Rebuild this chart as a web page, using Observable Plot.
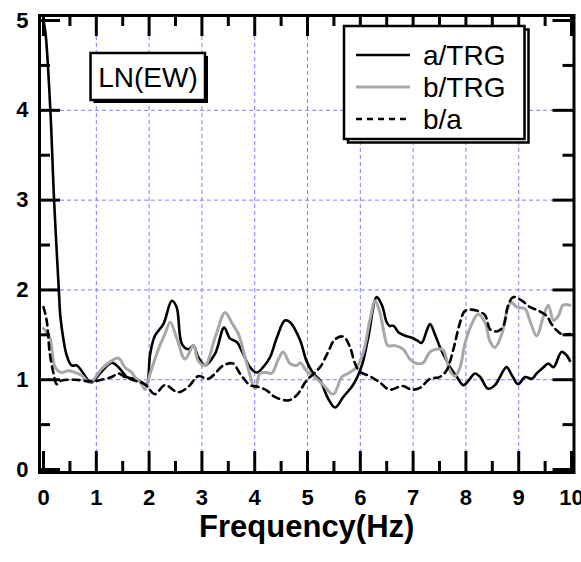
<!DOCTYPE html>
<html>
<head>
<meta charset="utf-8">
<script src="https://cdn.jsdelivr.net/npm/d3@7"></script>
<script src="https://cdn.jsdelivr.net/npm/@observablehq/plot@0.6"></script>
<style>
  html, body { margin: 0; padding: 0; background: #fff; }
  #chart svg { display: block; overflow: visible; }
</style>
</head>
<body>
<div id="chart"></div>
<script>
// ---- Data ----
const aTRG_freq = [0.00,0.04,0.13,0.20,0.29,0.32,0.38,0.44,0.53,0.63,0.72,0.85,0.91,1.10,1.29,1.42,1.58,1.73,1.86,1.95,2.02,2.11,2.27,2.43,2.52,2.62,2.74,2.84,2.93,3.06,3.25,3.42,3.53,3.66,3.78,3.91,4.04,4.16,4.29,4.42,4.57,4.67,4.86,4.98,5.11,5.24,5.39,5.52,5.68,5.87,6.03,6.15,6.31,6.41,6.50,6.55,6.63,6.72,6.85,6.97,7.07,7.16,7.26,7.32,7.41,7.51,7.60,7.70,7.83,7.95,8.05,8.17,8.27,8.42,8.55,8.77,8.87,8.99,9.12,9.25,9.34,9.47,9.56,9.66,9.81,9.91,9.97];
const aTRG_val  = [5.00,4.85,4.00,3.00,2.00,1.70,1.44,1.27,1.16,1.16,1.10,0.99,0.97,1.09,1.19,1.14,1.03,1.01,0.97,0.94,1.29,1.49,1.62,1.88,1.81,1.40,1.34,1.38,1.25,1.16,1.29,1.58,1.46,1.42,1.29,1.14,1.08,1.14,1.25,1.47,1.66,1.64,1.44,1.21,1.07,0.99,0.79,0.69,0.81,0.95,1.16,1.47,1.92,1.83,1.64,1.60,1.60,1.53,1.49,1.47,1.44,1.41,1.55,1.62,1.51,1.36,1.25,1.14,1.03,0.94,0.99,1.07,1.03,0.90,0.94,1.14,1.05,0.95,1.03,1.01,1.07,1.14,1.18,1.14,1.31,1.27,1.21];

const bTRG_freq = [0.00,0.03,0.12,0.22,0.34,0.47,0.60,0.72,0.88,1.10,1.29,1.42,1.54,1.67,1.73,1.86,1.92,2.02,2.17,2.30,2.40,2.52,2.68,2.84,2.93,3.06,3.25,3.44,3.56,3.69,3.85,4.01,4.10,4.23,4.32,4.45,4.54,4.67,4.80,4.86,4.98,5.14,5.30,5.49,5.65,5.80,5.93,6.06,6.18,6.28,6.37,6.45,6.52,6.66,6.81,6.94,7.07,7.19,7.32,7.45,7.57,7.64,7.70,7.79,7.89,7.98,8.11,8.23,8.36,8.46,8.55,8.68,8.80,8.87,8.96,9.12,9.21,9.34,9.47,9.56,9.66,9.75,9.84,9.97];
const bTRG_val  = [1.57,1.55,1.47,1.14,1.08,1.10,1.08,1.05,0.97,1.12,1.21,1.24,1.14,1.08,1.03,0.95,0.89,1.07,1.33,1.51,1.64,1.47,1.23,1.38,1.21,1.16,1.47,1.75,1.64,1.51,1.18,0.90,1.07,1.08,1.07,1.23,1.31,1.18,1.16,1.19,1.10,1.03,0.94,0.84,1.03,1.08,1.14,1.31,1.66,1.88,1.75,1.52,1.38,1.38,1.34,1.23,1.18,1.19,1.31,1.34,1.33,1.21,1.10,1.04,1.14,1.40,1.62,1.73,1.64,1.42,1.36,1.51,1.81,1.86,1.81,1.79,1.66,1.49,1.71,1.83,1.66,1.71,1.83,1.83];

const ba_freq = [0.00,0.06,0.12,0.19,0.25,0.34,0.60,0.91,1.10,1.29,1.42,1.54,1.73,1.92,2.11,2.30,2.55,2.74,2.93,3.12,3.41,3.59,3.72,3.91,4.07,4.23,4.38,4.64,4.80,4.98,5.14,5.25,5.39,5.52,5.68,5.80,5.90,5.99,6.18,6.37,6.55,6.80,6.97,7.13,7.32,7.50,7.63,7.75,7.88,7.97,8.05,8.20,8.36,8.46,8.60,8.71,8.80,8.90,9.06,9.21,9.37,9.53,9.62,9.72,9.81,9.97];
const ba_val  = [1.81,1.66,1.29,1.07,0.95,0.99,1.00,0.98,1.00,1.03,1.07,1.03,0.99,0.95,0.84,0.94,0.86,0.92,1.04,1.01,1.16,1.18,1.07,0.94,0.92,0.88,0.81,0.77,0.83,0.99,1.08,1.15,1.31,1.45,1.48,1.37,1.18,1.09,1.04,0.97,0.89,0.93,0.89,0.91,1.01,1.03,1.10,1.31,1.62,1.76,1.78,1.77,1.72,1.56,1.54,1.60,1.83,1.92,1.88,1.81,1.77,1.71,1.62,1.55,1.51,1.51];

const seriesNames = ["a/TRG", "b/TRG", "b/a"];
const xTicks = [0,1,2,3,4,5,6,7,8,9,10];
const yTicks = [0,1,2,3,4,5];
const xMinor = [0.5,1.5,2.5,3.5,4.5,5.5,6.5,7.5,8.5,9.5];
const yMinor = [0.5,1.5,2.5,3.5,4.5];
const xGrid = [1,2,3,4,5,6,7,8,9];
const yGrid = [1,2,3,4];
const panelLabel = "LN(EW)";
const xTitle = "Frequency(Hz)";

// ---- Layout / style ----
const W = 581, H = 562;
const mL = 39, mR = 7.5, mT = 15, mB = 90;
const frameW = W - mL - mR, frameH = H - mT - mB;
const xDomain = [-0.076, 10.047];
const yDomain = [-0.033, 5.056];
const majorLen = 21, minorLen = 11;
const gridColor = "#7c7cff";
const grayColor = "#a8a8a8";
const dash = "7,5";

const toRows = (f, v) => f.map((x, i) => ({x, y: v[i]}));
const rowsA = toRows(aTRG_freq, aTRG_val);
const rowsB = toRows(bTRG_freq, bTRG_val);
const rowsBA = toRows(ba_freq, ba_val);

const tickStyle = {stroke: "black", strokeWidth: 3};
const intFmt = d => String(d);

const chart = Plot.plot({
  width: W, height: H,
  marginLeft: mL, marginRight: mR, marginTop: mT, marginBottom: mB,
  x: {domain: xDomain, axis: null},
  y: {domain: yDomain, axis: null},
  style: {fontFamily: "'Liberation Sans', Arial, sans-serif", background: "white", overflow: "visible"},
  marks: [
    Plot.ruleX(xGrid, {x: d => d, stroke: gridColor, strokeWidth: 1, strokeDasharray: "4,3"}),
    Plot.ruleY(yGrid, {y: d => d, stroke: gridColor, strokeWidth: 1, strokeDasharray: "4,3"}),
    Plot.line(rowsA, {x: "x", y: "y", stroke: "black", strokeWidth: 2.6, curve: "catmull-rom"}),
    Plot.line(rowsB, {x: "x", y: "y", stroke: grayColor, strokeWidth: 3, curve: "catmull-rom"}),
    Plot.line(rowsBA, {x: "x", y: "y", stroke: "black", strokeWidth: 2.6, strokeDasharray: dash, curve: "catmull-rom"}),
    // inward ticks: bottom, top, left, right
    Plot.tickX(xTicks, {x: d => d, insetTop: frameH - majorLen, ...tickStyle}),
    Plot.tickX(xMinor, {x: d => d, insetTop: frameH - minorLen, ...tickStyle}),
    Plot.tickX(xTicks, {x: d => d, insetBottom: frameH - majorLen, ...tickStyle}),
    Plot.tickX(xMinor, {x: d => d, insetBottom: frameH - minorLen, ...tickStyle}),
    Plot.tickY(yTicks, {y: d => d, insetRight: frameW - majorLen, ...tickStyle}),
    Plot.tickY(yMinor, {y: d => d, insetRight: frameW - minorLen, ...tickStyle}),
    Plot.tickY(yTicks, {y: d => d, insetLeft: frameW - majorLen, ...tickStyle}),
    Plot.tickY(yMinor, {y: d => d, insetLeft: frameW - minorLen, ...tickStyle}),
    Plot.frame({stroke: "black", strokeWidth: 3}),
    Plot.axisX(xTicks, {tickSize: 0, tickPadding: 17, tickFormat: intFmt, label: null, fontSize: 22, fontWeight: "bold", fill: "black"}),
    Plot.axisY(yTicks, {tickSize: 0, tickPadding: 11, tickFormat: intFmt, label: null, fontSize: 22, fontWeight: "bold", fill: "black"}),
    Plot.text([xTitle], {frameAnchor: "bottom", dy: 64, fontSize: 31, fontWeight: "bold", fill: "black"})
  ]
});

document.getElementById("chart").appendChild(chart);

// ---- Annotation box and legend ----
const svg = d3.select(chart);
const font = "'Liberation Sans', Arial, sans-serif";

const lab = svg.append("g");
lab.append("rect").attr("x", 93.5).attr("y", 56).attr("width", 114.5).attr("height", 47).attr("fill", "black");
lab.append("rect").attr("x", 90.5).attr("y", 53).attr("width", 114.5).attr("height", 47)
  .attr("fill", "white").attr("stroke", "black").attr("stroke-width", 2.5);
lab.append("text").attr("x", 148).attr("y", 86.5).attr("text-anchor", "middle")
  .attr("font-family", font).attr("font-size", 28).attr("fill", "black").text(panelLabel);

const leg = svg.append("g");
leg.append("rect").attr("x", 348).attr("y", 29.5).attr("width", 180.5).attr("height", 113)
  .attr("fill", "none").attr("stroke", "black").attr("stroke-width", 2.5);
leg.append("rect").attr("x", 344).attr("y", 26).attr("width", 180.5).attr("height", 113)
  .attr("fill", "white").attr("stroke", "black").attr("stroke-width", 2.5);
const legStyles = [
  {stroke: "black", width: 2.6, dash: null},
  {stroke: grayColor, width: 3.2, dash: null},
  {stroke: "black", width: 2.6, dash: "6,5"}
];
seriesNames.forEach((name, i) => {
  const cy = 55 + i * 32;
  const s = legStyles[i];
  const ln = leg.append("line").attr("x1", 356).attr("x2", 410).attr("y1", cy).attr("y2", cy)
    .attr("stroke", s.stroke).attr("stroke-width", s.width);
  if (s.dash) ln.attr("stroke-dasharray", s.dash);
  leg.append("text").attr("x", 423).attr("y", cy + 9.5).attr("text-anchor", "start")
    .attr("font-family", font).attr("font-size", 28).attr("fill", "black").text(name);
});
</script>
</body>
</html>
